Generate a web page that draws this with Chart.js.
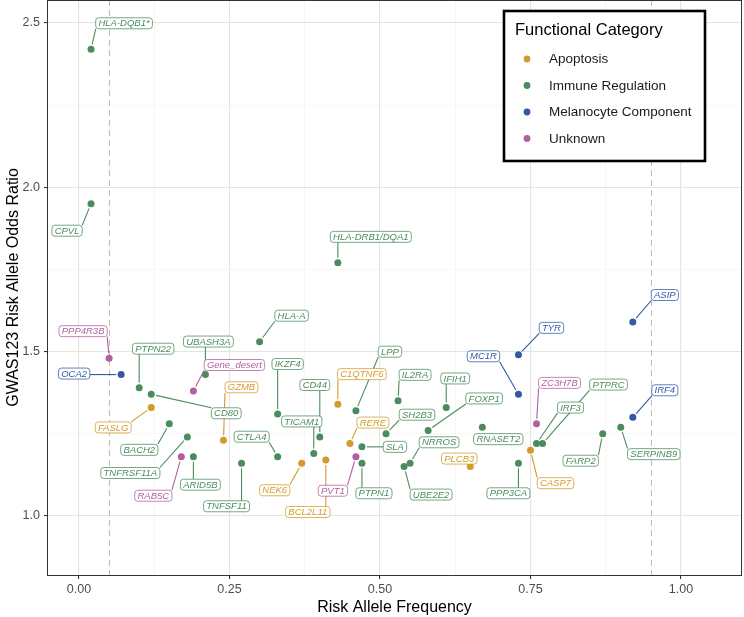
<!DOCTYPE html>
<html>
<head>
<meta charset="utf-8">
<script src="https://cdn.jsdelivr.net/npm/chart.js@4.4.1/dist/chart.umd.min.js"></script>
<style>
  html, body { margin: 0; padding: 0; background: #ffffff; }
  #c { display: block; }
</style>
</head>
<body>
<canvas id="c" width="744" height="617"></canvas>
<script>
// ---------------- DATA ----------------
const genes = ["HLA-DQB1*","CPVL","PPP4R3B","OCA2","PTPN22","CD80","FASLG","BACH2","TNFRSF11A","RAB5C",
  "ARID5B","Gene_desert","UBASH3A","GZMB","TNFSF11","CTLA4","HLA-A","IKZF4","HLA-DRB1/DQA1","CD44",
  "TICAM1","NEK6","BCL2L11","C1QTNF6","LPP","RERE","SLA","PVT1","PTPN1","SH2B3",
  "IL2RA","IFIH1","FOXP1","NRROS","UBE2E2","PLCB3","RNASET2","PPP3CA","MC1R","TYR",
  "ZC3H7B","CASP7","IRF3","PTPRC","FARP2","SERPINB9","IRF4","ASIP"];
const riskAlleleFreq = [0.02,0.02,0.05,0.07,0.10,0.12,0.12,0.15,0.18,0.17,
  0.19,0.19,0.21,0.24,0.27,0.33,0.30,0.33,0.43,0.40,
  0.39,0.37,0.41,0.43,0.46,0.45,0.47,0.46,0.47,0.51,
  0.53,0.61,0.58,0.55,0.54,0.65,0.67,0.73,0.73,0.73,
  0.76,0.75,0.76,0.77,0.87,0.90,0.92,0.92];
const oddsRatio = [2.42,1.95,1.48,1.43,1.39,1.37,1.33,1.28,1.24,1.18,
  1.18,1.38,1.43,1.23,1.16,1.18,1.53,1.31,1.77,1.24,
  1.19,1.16,1.17,1.34,1.32,1.22,1.21,1.18,1.16,1.25,
  1.35,1.33,1.26,1.16,1.15,1.15,1.27,1.16,1.37,1.49,
  1.28,1.20,1.22,1.22,1.25,1.27,1.30,1.59];
const categoryOf = ["Immune Regulation","Immune Regulation","Unknown","Melanocyte Component","Immune Regulation","Immune Regulation","Apoptosis","Immune Regulation","Immune Regulation","Unknown",
  "Immune Regulation","Unknown","Immune Regulation","Apoptosis","Immune Regulation","Immune Regulation","Immune Regulation","Immune Regulation","Immune Regulation","Immune Regulation",
  "Immune Regulation","Apoptosis","Apoptosis","Apoptosis","Immune Regulation","Apoptosis","Immune Regulation","Unknown","Immune Regulation","Immune Regulation",
  "Immune Regulation","Immune Regulation","Immune Regulation","Immune Regulation","Immune Regulation","Apoptosis","Immune Regulation","Immune Regulation","Melanocyte Component","Melanocyte Component",
  "Unknown","Apoptosis","Immune Regulation","Immune Regulation","Immune Regulation","Immune Regulation","Melanocyte Component","Melanocyte Component"];
const categories = ["Apoptosis","Immune Regulation","Melanocyte Component","Unknown"];
const xTickValues = [0, 0.25, 0.5, 0.75, 1.0];
const yTickValues = [1.0, 1.5, 2.0, 2.5];
const mafThresholds = [0.05, 0.95];

// ---------------- STYLE / LAYOUT ----------------
const catColors = {
  "Apoptosis": "#D39A2C",
  "Immune Regulation": "#4B8C5E",
  "Melanocyte Component": "#3458A4",
  "Unknown": "#B15F9E"
};
// repelled label placement (pixel offset of label centre from its point)
const labelNudge = {
  "HLA-DQB1*":[33,-26],"CPVL":[-24,27],"PPP4R3B":[-26,-27],"OCA2":[-47,-1],"PTPN22":[14,-39],
  "CD80":[75,19],"FASLG":[-38,20],"BACH2":[-30,26],"TNFRSF11A":[-57,36],"RAB5C":[-28,39],
  "ARID5B":[7,28],"Gene_desert":[41,-26],"UBASH3A":[3,-33],"GZMB":[18,-53],"TNFSF11":[-15,43],
  "CTLA4":[-26,-20],"HLA-A":[32,-26],"IKZF4":[10,-50],"HLA-DRB1/DQA1":[33,-26],"CD44":[-5,-52],
  "TICAM1":[-12,-32],"NEK6":[-27,27],"BCL2L11":[-18,52],"C1QTNF6":[24,-30],"LPP":[34,-59],
  "RERE":[23,-21],"SLA":[33,0],"PVT1":[-23,34],"PTPN1":[12,30],"SH2B3":[31,-19],
  "IL2RA":[17,-26],"IFIH1":[9,-29],"FOXP1":[56,-32],"NRROS":[29,-21],"UBE2E2":[27,28],
  "PLCB3":[-11,-8],"RNASET2":[16,12],"PPP3CA":[-10,30],"MC1R":[-35,-38],"TYR":[33,-27],
  "ZC3H7B":[23,-41],"CASP7":[25,33],"IRF3":[34,-36],"PTPRC":[66,-59],"FARP2":[-22,27],
  "SERPINB9":[33,27],"IRF4":[32,-27],"ASIP":[32,-27]
};
const FONT = "'Liberation Sans', Arial, Helvetica, sans-serif";

const datasets = categories.map(cat => {
  const pts = [];
  genes.forEach((g, i) => {
    if (categoryOf[i] === cat) pts.push({x: riskAlleleFreq[i], y: oddsRatio[i], gene: g});
  });
  return {
    label: cat,
    data: pts,
    backgroundColor: catColors[cat],
    borderColor: catColors[cat],
    borderWidth: 0,
    pointRadius: 3.5,
    pointHoverRadius: 3.5
  };
});

function isMultiple(v, step) {
  const r = v / step;
  return Math.abs(r - Math.round(r)) < 1e-7;
}
function withMinors(majors) {
  const out = [];
  for (let i = 0; i < majors.length; i++) {
    out.push(majors[i]);
    if (i < majors.length - 1) out.push((majors[i] + majors[i + 1]) / 2);
  }
  return out;
}

const decorPlugin = {
  id: 'decor',
  beforeDatasetsDraw(chart) {
    const {ctx, chartArea: a, scales: {x}} = chart;
    ctx.save();
    ctx.strokeStyle = '#BDBDBD';
    ctx.lineWidth = 1;
    ctx.setLineDash([6, 4]);
    mafThresholds.forEach(t => {
      const px = Math.round(x.getPixelForValue(t)) + 0.5;
      ctx.beginPath();
      ctx.moveTo(px, a.top);
      ctx.lineTo(px, a.bottom);
      ctx.stroke();
    });
    ctx.restore();
  },
  afterDatasetsDraw(chart) {
    const {ctx} = chart;
    ctx.save();
    ctx.font = "italic 9.5px " + FONT;
    const boxes = [];
    chart.data.datasets.forEach((ds, di) => {
      const meta = chart.getDatasetMeta(di);
      ds.data.forEach((d, j) => {
        const el = meta.data[j];
        const nud = labelNudge[d.gene] || [20, -20];
        const cx = el.x + nud[0], cy = el.y + nud[1];
        const tw = ctx.measureText(d.gene).width;
        const w = tw + 5.5, h = 11;
        boxes.push({gene: d.gene, col: ds.backgroundColor, px: el.x, py: el.y,
          x0: cx - w / 2, y0: cy - h / 2, w, h, cx, cy});
      });
    });
    // segments
    boxes.forEach(b => {
      const nx = Math.min(Math.max(b.px, b.x0), b.x0 + b.w);
      const ny = Math.min(Math.max(b.py, b.y0), b.y0 + b.h);
      const dx = nx - b.px, dy = ny - b.py;
      const len = Math.hypot(dx, dy);
      if (len < 10) return;
      const gap = 5;
      ctx.strokeStyle = b.col;
      ctx.lineWidth = 1.1;
      ctx.beginPath();
      ctx.moveTo(b.px + dx / len * gap, b.py + dy / len * gap);
      ctx.lineTo(nx, ny);
      ctx.stroke();
    });
    // labels
    boxes.forEach(b => {
      ctx.beginPath();
      ctx.roundRect(b.x0, b.y0, b.w, b.h, 3);
      ctx.fillStyle = '#ffffff';
      ctx.fill();
      ctx.strokeStyle = b.col;
      ctx.globalAlpha = 0.85;
      ctx.lineWidth = 0.9;
      ctx.stroke();
      ctx.globalAlpha = 1;
      ctx.fillStyle = b.col;
      ctx.textAlign = 'center';
      ctx.textBaseline = 'middle';
      ctx.fillText(b.gene, b.cx, b.cy + 0.5);
    });
    ctx.restore();
  },
  afterDraw(chart) {
    const {ctx, chartArea: a} = chart;
    ctx.save();
    // panel border
    ctx.strokeStyle = '#333333';
    ctx.lineWidth = 1;
    ctx.strokeRect(a.left - 0.5, a.top + 0.5, a.right - a.left + 1, a.bottom - a.top);
    // legend
    const lx = 504, ly = 11, lw = 201, lh = 150;
    ctx.fillStyle = '#ffffff';
    ctx.fillRect(lx, ly, lw, lh);
    ctx.strokeStyle = '#000000';
    ctx.lineWidth = 2.6;
    ctx.strokeRect(lx, ly, lw, lh);
    ctx.fillStyle = '#000000';
    ctx.textAlign = 'left';
    ctx.textBaseline = 'middle';
    ctx.font = "16.5px " + FONT;
    ctx.fillText("Functional Category", 515, 30);
    ctx.font = "13.5px " + FONT;
    const rowY = [59, 85.5, 112, 138.5];
    categories.forEach((cat, i) => {
      ctx.fillStyle = catColors[cat];
      ctx.beginPath();
      ctx.arc(527, rowY[i], 3.4, 0, Math.PI * 2);
      ctx.fill();
      ctx.fillStyle = '#1a1a1a';
      ctx.fillText(cat, 549, rowY[i] + 0.5);
    });
    ctx.restore();
  }
};

new Chart(document.getElementById('c'), {
  type: 'scatter',
  data: { datasets },
  plugins: [decorPlugin],
  options: {
    responsive: false,
    animation: false,
    devicePixelRatio: 1,
    layout: { autoPadding: false, padding: { top: 0, right: 3, left: 0, bottom: 0 } },
    plugins: { legend: { display: false }, tooltip: { enabled: false } },
    scales: {
      x: {
        type: 'linear',
        min: -0.0515, max: 1.0997,
        afterBuildTicks: s => { s.ticks = withMinors(xTickValues).map(v => ({value: v})); },
        afterFit: s => { s.height = 42; s.paddingLeft = 0; s.paddingRight = 0; },
        border: { display: false },
        grid: {
          color: c => isMultiple(c.tick.value, 0.25) ? '#E4E4E4' : '#F2F2F2',
          lineWidth: c => isMultiple(c.tick.value, 0.25) ? 1.1 : 0.6,
          tickColor: c => isMultiple(c.tick.value, 0.25) ? '#333333' : 'rgba(0,0,0,0)',
          tickLength: 4
        },
        ticks: {
          autoSkip: false, maxRotation: 0, padding: 3,
          color: '#4D4D4D',
          font: { family: FONT, size: 12.5 },
          callback: v => isMultiple(v, 0.25) ? v.toFixed(2) : ''
        },
        title: {
          display: true, text: 'Risk Allele Frequency', color: '#000000',
          font: { family: FONT, size: 16 }, padding: { top: 0, bottom: 0 }
        }
      },
      y: {
        type: 'linear',
        min: 0.82, max: 2.57,
        afterBuildTicks: s => { s.ticks = withMinors(yTickValues).map(v => ({value: v})); },
        afterFit: s => { s.width = 48; s.paddingTop = 0; s.paddingBottom = 0; },
        border: { display: false },
        grid: {
          color: c => isMultiple(c.tick.value, 0.5) ? '#E4E4E4' : '#F2F2F2',
          lineWidth: c => isMultiple(c.tick.value, 0.5) ? 1.1 : 0.6,
          tickColor: c => isMultiple(c.tick.value, 0.5) ? '#333333' : 'rgba(0,0,0,0)',
          tickLength: 4
        },
        ticks: {
          autoSkip: false, padding: 4,
          color: '#4D4D4D',
          font: { family: FONT, size: 12.5 },
          callback: v => isMultiple(v, 0.5) ? v.toFixed(1) : ''
        },
        title: {
          display: true, text: 'GWAS123 Risk Allele Odds Ratio', color: '#000000',
          font: { family: FONT, size: 16 }, padding: { top: 4, bottom: 0 }
        }
      }
    }
  }
});
</script>
</body>
</html>
